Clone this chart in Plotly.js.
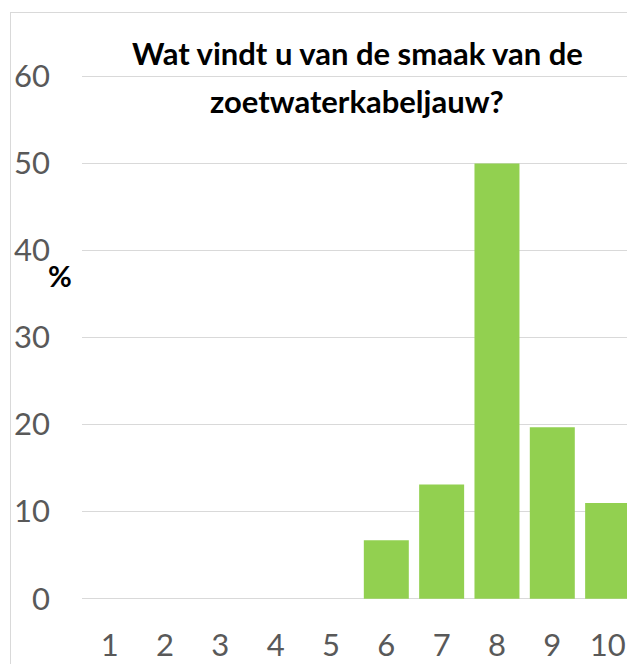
<!DOCTYPE html>
<html>
<head>
<meta charset="utf-8">
<script src="https://cdn.plot.ly/plotly-3.0.1.min.js"></script>
<style>
  html, body { margin: 0; padding: 0; overflow: hidden; background: #fff; }
  #wrap { position: relative; width: 627px; height: 664px; overflow: hidden; }
  #chart { position: absolute; left: 0; top: 0; width: 627px; height: 664px; }
  #frame { position: absolute; left: 10px; top: 12px; width: 700px; height: 700px;
           border: 1px solid #d9d9d9; pointer-events: none; box-sizing: border-box; }
</style>
</head>
<body>
<div id="wrap">
  <div id="chart"></div>
  <div id="frame"></div>
</div>
<script>
// Data
const scores = [1, 2, 3, 4, 5, 6, 7, 8, 9, 10];
const percentages = [0, 0, 0, 0, 0, 6.7, 13.1, 50.0, 19.7, 11.0];
const tickLabels = ['1', '2', '3', '4', '5', '6', '7', '8', '9', '10'];
const yTicks = [0, 10, 20, 30, 40, 50, 60];
const titleLines = ['Wat vindt u van de smaak van de', 'zoetwaterkabeljauw?'];
const yLabel = '%';

const FONT = 'Lato, "Open Sans", sans-serif';

const data = [{
  type: 'bar',
  x: scores,
  y: percentages,
  marker: { color: '#92d050', line: { width: 0 } },
  hoverinfo: 'x+y'
}];

const titleY = [1.036, 0.946];

const layout = {
  width: 627,
  height: 664,
  margin: { l: 82, r: 0, t: 72, b: 61, pad: 0 },
  paper_bgcolor: 'rgba(0,0,0,0)',
  plot_bgcolor: 'rgba(0,0,0,0)',
  showlegend: false,
  bargap: 0.187,
  xaxis: {
    type: 'linear',
    range: [0.5, 10.35],
    tickmode: 'array',
    tickvals: scores,
    ticktext: tickLabels,
    showgrid: false,
    zeroline: false,
    showline: false,
    ticks: '',
    ticklabelstandoff: 21,
    tickfont: { family: FONT, size: 31, color: '#595959' },
    fixedrange: true,
    automargin: false
  },
  yaxis: {
    range: [-0.5, 60.5],
    tickmode: 'array',
    tickvals: yTicks,
    ticktext: yTicks.map(String),
    showgrid: true,
    gridcolor: '#d9d9d9',
    gridwidth: 1,
    zeroline: true,
    zerolinecolor: '#d9d9d9',
    zerolinewidth: 1,
    showline: false,
    ticks: '',
    ticklabelstandoff: 31,
    tickfont: { family: FONT, size: 31, color: '#595959' },
    fixedrange: true,
    automargin: false
  },
  annotations: titleLines.map((t, i) => ({
    text: '<b>' + t + '</b>',
    xref: 'paper', yref: 'paper',
    x: 0.5046, y: titleY[i],
    xanchor: 'center', yanchor: 'middle',
    showarrow: false,
    font: { family: FONT, size: 31, color: '#000000' }
  })).concat([{
    text: '<b>' + yLabel + '</b>',
    xref: 'paper', yref: 'paper',
    x: -0.041, y: 0.616,
    xanchor: 'center', yanchor: 'middle',
    showarrow: false,
    font: { family: FONT, size: 29, color: '#000000' }
  }])
};

Plotly.newPlot('chart', data, layout, { displayModeBar: false, staticPlot: true });
</script>
</body>
</html>
